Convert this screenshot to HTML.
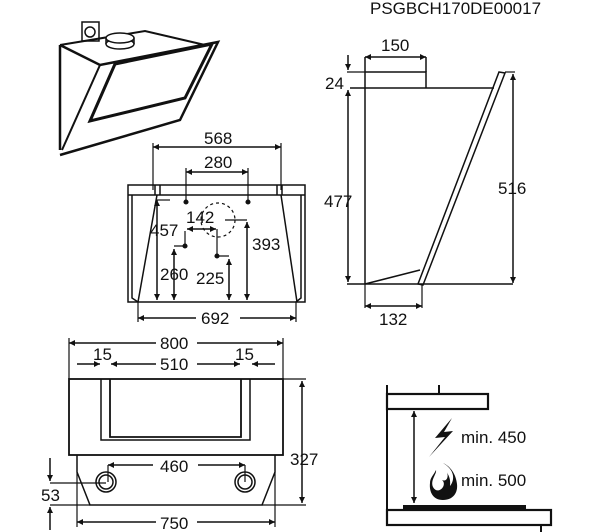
<!DOCTYPE html>
<html><head><meta charset="utf-8"><style>
html,body{margin:0;padding:0;background:#fff;}
svg{display:block;}
text{font-family:"Liberation Sans",Arial,sans-serif;font-size:17px;fill:#111;}
</style></head><body>
<svg width="600" height="532" viewBox="0 0 600 532" xmlns="http://www.w3.org/2000/svg">
<defs>
<marker id="a" viewBox="0 0 10 10" refX="10" refY="5" markerWidth="9" markerHeight="6" orient="auto-start-reverse" markerUnits="userSpaceOnUse"><path d="M0,0L10,5L0,10z" fill="#111"/></marker>
</defs>
<g stroke="#111" fill="none" stroke-width="1.5">
<text x="370" y="14" stroke="none">PSGBCH170DE00017</text>

<!-- 3D hood -->
<rect x="82" y="22" width="17" height="19" fill="#fff"/>
<circle cx="90" cy="32" r="5"/>
<path d="M60,45 L145,31 L205,45" stroke-width="2"/>
<path d="M60,45 L60,150" stroke-width="2.5"/>
<path d="M60,45 L100,65 L218,42 L180,120 L60,155" stroke-width="2.5"/>
<path d="M100,65 L62,150" stroke-width="2"/>
<path d="M115,64 L212,44 L185,98 L90,121 Z" stroke-width="3"/>
<path d="M106,38 L106,44 M134,38 L134,44"/>
<ellipse cx="120" cy="44" rx="14" ry="5" fill="#fff"/>
<ellipse cx="120" cy="38" rx="14" ry="5" fill="#fff"/>

<!-- front middle view -->
<rect x="128" y="185" width="177" height="117"/>
<path d="M128,195 L305,195"/>
<path d="M132,195 L132,298 L138,302"/>
<path d="M301,195 L301,298 L296,302"/>
<path d="M155,185 L155,195 M160,185 L160,195 M277,185 L277,195 M282,185 L282,195"/>
<path d="M157,195 L138,302 M281,195 L297,302"/>
<path d="M153,190 L153,143 M281,190 L281,143" stroke-width="1.2"/>
<line x1="153" y1="147" x2="281" y2="147" marker-start="url(#a)" marker-end="url(#a)"/>
<text x="204" y="144" stroke="none">568</text>
<path d="M186,202 L186,168 M248,202 L248,168" stroke-width="1.2"/>
<line x1="186" y1="172" x2="248" y2="172" marker-start="url(#a)" marker-end="url(#a)"/>
<text x="204" y="168" stroke="none">280</text>
<circle cx="186" cy="202" r="1.8" fill="#111"/><circle cx="248" cy="202" r="1.8" fill="#111"/>
<circle cx="218" cy="220" r="17" stroke-dasharray="3,3" stroke-width="1.2"/>
<line x1="187" y1="229" x2="216" y2="229" marker-start="url(#a)" marker-end="url(#a)"/>
<text x="186" y="223" stroke="none">142</text>
<path d="M157,200 L170,200" stroke-width="1.2"/>
<line x1="157" y1="200" x2="157" y2="300" marker-start="url(#a)" marker-end="url(#a)"/>
<text x="150" y="236" stroke="none">457</text>
<path d="M185,231 L185,246 L174,246" stroke-width="1.2"/>
<circle cx="185" cy="246" r="1.8" fill="#111"/>
<line x1="174" y1="249" x2="174" y2="300" marker-start="url(#a)" marker-end="url(#a)"/>
<text x="160" y="280" stroke="none">260</text>
<path d="M217,229 L217,256 L229,256" stroke-width="1.2"/>
<circle cx="217" cy="256" r="1.8" fill="#111"/>
<line x1="229" y1="259" x2="229" y2="300" marker-start="url(#a)" marker-end="url(#a)"/>
<text x="196" y="284" stroke="none">225</text>
<path d="M225,220 L247,220" stroke-width="1.2"/>
<line x1="247" y1="222" x2="247" y2="300" marker-start="url(#a)" marker-end="url(#a)"/>
<text x="252" y="250" stroke="none">393</text>
<path d="M138,302 L138,322 M296,302 L296,322" stroke-width="1.2"/>
<line x1="138" y1="318" x2="196" y2="318" marker-start="url(#a)"/>
<line x1="240" y1="318" x2="296" y2="318" marker-end="url(#a)"/>
<text x="201" y="324" stroke="none">692</text>

<!-- side view -->
<path d="M365,57 L365,284"/>
<path d="M365,72 L426,72 L426,88"/>
<path d="M350,88 L494,88"/>
<path d="M499,72 L505,73 L423,285 L418,284 Z"/>
<path d="M347,284 L513,284"/>
<path d="M365,284 L420,270"/>
<path d="M426,57 L426,72"/>
<line x1="365" y1="57" x2="426" y2="57" marker-start="url(#a)" marker-end="url(#a)"/>
<text x="381" y="51" stroke="none">150</text>
<path d="M347,72 L365,72" stroke-width="1.2"/>
<line x1="348" y1="55" x2="348" y2="70" marker-end="url(#a)"/>
<text x="325" y="89" stroke="none">24</text>
<line x1="348" y1="90" x2="348" y2="282" marker-start="url(#a)" marker-end="url(#a)"/>
<text x="324" y="207" stroke="none">477</text>
<path d="M505,72 L515,72" stroke-width="1.2"/>
<line x1="513" y1="74" x2="513" y2="283" marker-start="url(#a)" marker-end="url(#a)"/>
<text x="498" y="194" stroke="none">516</text>
<path d="M422,284 L422,308 M365,284 L365,308" stroke-width="1.2"/>
<line x1="365" y1="306" x2="422" y2="306" marker-start="url(#a)" marker-end="url(#a)"/>
<text x="379" y="325" stroke="none">132</text>

<!-- bottom front view -->
<rect x="69" y="379" width="214" height="76" stroke-width="1.8"/>
<path d="M101,379 L101,440 L250,440 L250,379"/>
<path d="M110,379 L110,437 L241,437 L241,379" stroke-width="1.8"/>
<path d="M69,379 L69,338 M283,379 L283,338" stroke-width="1.2"/>
<line x1="69" y1="343" x2="156" y2="343" marker-start="url(#a)"/>
<line x1="197" y1="343" x2="283" y2="343" marker-end="url(#a)"/>
<text x="160" y="349" stroke="none">800</text>
<text x="93" y="360" stroke="none">15</text>
<text x="235" y="360" stroke="none">15</text>
<line x1="77" y1="364" x2="100" y2="364" marker-end="url(#a)"/>
<line x1="275" y1="364" x2="252" y2="364" marker-end="url(#a)"/>
<line x1="111" y1="364" x2="156" y2="364" marker-start="url(#a)"/>
<line x1="197" y1="364" x2="240" y2="364" marker-end="url(#a)"/>
<text x="160" y="370" stroke="none">510</text>
<path d="M77,455 L77,472 L90,505 L262,505 L275,472 L275,455"/>
<path d="M77,472 L77,527 M275,472 L275,527" stroke-width="1.2"/>
<circle cx="106" cy="482" r="10"/><circle cx="106" cy="482" r="7"/>
<circle cx="245" cy="482" r="10"/><circle cx="245" cy="482" r="7"/>
<path d="M108,482 L108,465 M245,482 L245,465" stroke-width="1.2"/>
<line x1="108" y1="465" x2="153" y2="465" marker-start="url(#a)"/>
<line x1="198" y1="465" x2="245" y2="465" marker-end="url(#a)"/>
<text x="160" y="472" stroke="none">460</text>
<path d="M283,379 L306,379 M262,505 L306,505" stroke-width="1.2"/>
<line x1="302" y1="381" x2="302" y2="503" marker-start="url(#a)" marker-end="url(#a)"/>
<text x="290" y="465" stroke="none">327</text>
<path d="M50,483 L106,483 M50,505 L90,505" stroke-width="1.2"/>
<line x1="50" y1="458" x2="50" y2="481" marker-end="url(#a)"/>
<line x1="50" y1="530" x2="50" y2="507" marker-end="url(#a)"/>
<text x="41" y="501" stroke="none">53</text>
<line x1="77" y1="522" x2="156" y2="522" marker-start="url(#a)"/>
<line x1="197" y1="522" x2="275" y2="522" marker-end="url(#a)"/>
<text x="160" y="529" stroke="none">750</text>

<!-- clearance diagram -->
<path d="M387,385 L387,522" stroke-width="2"/>
<path d="M439,385 L439,394" stroke-width="2"/>
<rect x="387" y="394" width="101" height="15" stroke-width="2.2"/>
<line x1="414" y1="411" x2="414" y2="503" marker-start="url(#a)" marker-end="url(#a)"/>
<rect x="403" y="505" width="123" height="5" fill="#111" stroke="none"/>
<rect x="387" y="510" width="164" height="15" stroke-width="2.2"/>
<path d="M541,525 L541,532" stroke-width="2"/>
<path d="M452,418 L435,438 L445,437 L429,457 L453,431 L444,432 Z" fill="#111" stroke="none"/>
<path d="M443,463 C455,470 455,480 450,486 C451,478 448,475 447,472 C449,478 446,482 442,480 C448,485 438,496 433,487 C430,480 437,474 436,470 C433,476 430,478 430,483 C429,492 433,500 443,500 C453,500 458,493 457,484 C456,474 450,466 443,463 Z" fill="#111" stroke="none"/>
<text x="461" y="443" stroke="none">min. 450</text>
<text x="461" y="486" stroke="none">min. 500</text>
</g>
</svg>
</body></html>
